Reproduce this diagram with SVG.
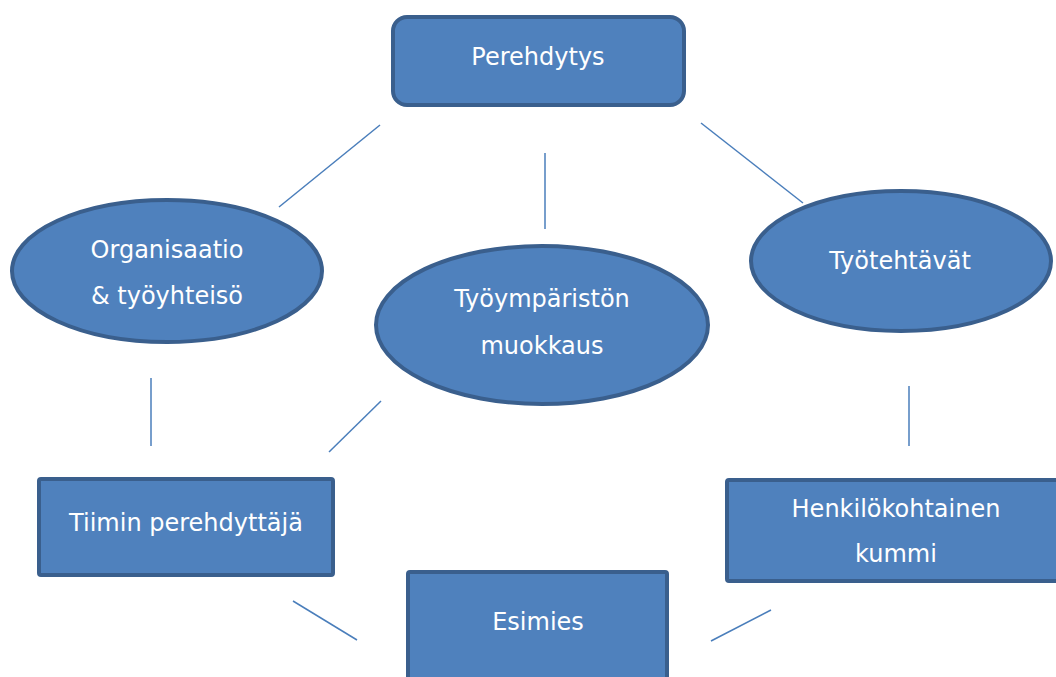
<svg xmlns="http://www.w3.org/2000/svg" width="1056" height="677" viewBox="0 0 1056 677">
<style>
.n{fill:#4F81BD;stroke:#3A5F8D;stroke-width:4}
.t{fill:#FFFFFF;font-family:"DejaVu Sans",sans-serif;font-size:24px;text-anchor:middle}
.c{stroke:#4A7EBB;stroke-width:1.5;fill:none}
</style>
<rect width="1056" height="677" fill="#FFFFFF"/>
<g id="connectors">
<line class="c" x1="380" y1="125" x2="279" y2="207"/>
<line class="c" x1="545" y1="153" x2="545" y2="229"/>
<line class="c" x1="701" y1="123" x2="803" y2="203"/>
<line class="c" x1="151" y1="378" x2="151" y2="446"/>
<line class="c" x1="381" y1="401" x2="329" y2="452"/>
<line class="c" x1="909" y1="386" x2="909" y2="446"/>
<line class="c" x1="293" y1="601" x2="357" y2="640"/>
<line class="c" x1="771" y1="610" x2="711" y2="641"/>
</g>
<g id="perehdytys">
<rect class="n" x="393" y="17" width="291" height="88" rx="14"/>
<text class="t" x="538" y="65">Perehdytys</text>
</g>
<g id="organisaatio">
<ellipse class="n" cx="167" cy="271" rx="155" ry="71"/>
<text class="t" x="167" y="258">Organisaatio</text>
<text class="t" x="167" y="304">&amp; työyhteisö</text>
</g>
<g id="tyoymparisto">
<ellipse class="n" cx="542" cy="325" rx="166" ry="79"/>
<text class="t" x="542" y="307">Työympäristön</text>
<text class="t" x="542" y="354">muokkaus</text>
</g>
<g id="tyotehtavat">
<ellipse class="n" cx="901" cy="261" rx="150" ry="70"/>
<text class="t" x="900" y="269">Työtehtävät</text>
</g>
<g id="tiimin">
<rect class="n" x="39" y="479" width="294" height="96" rx="2"/>
<text class="t" x="186" y="531">Tiimin perehdyttäjä</text>
</g>
<g id="henkilokohtainen">
<rect class="n" x="727" y="480" width="340" height="101" rx="2"/>
<text class="t" x="896" y="517">Henkilökohtainen</text>
<text class="t" x="896" y="562">kummi</text>
</g>
<g id="esimies">
<rect class="n" x="408" y="572" width="259" height="120" rx="2"/>
<text class="t" x="538" y="630">Esimies</text>
</g>
</svg>
